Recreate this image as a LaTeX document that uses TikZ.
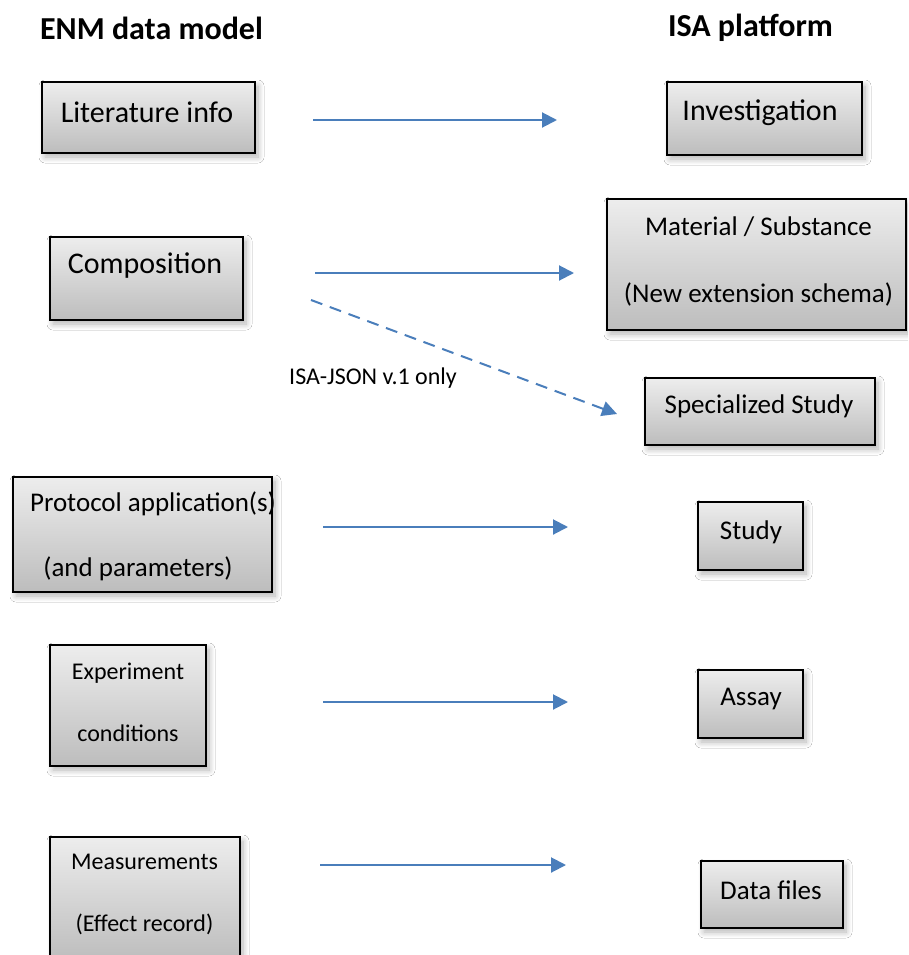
\documentclass[tikz,border=0pt]{standalone}
\usepackage{fontspec}
\setmainfont{Carlito}
\usetikzlibrary{arrows.meta,shadows.blur}
\definecolor{arrowblue}{HTML}{4A7EBB}
\begin{document}
\begin{tikzpicture}[x=1pt,y=-1pt,
  box/.style={draw=black, line width=2.5pt, top color=black!7, bottom color=black!26,
    blur shadow={shadow xshift=3pt, shadow yshift=-4pt, shadow blur steps=8, shadow blur radius=6pt, shadow opacity=30},
    inner sep=0pt},
  big/.style={font=\fontsize{30}{35}\selectfont, inner sep=0pt},
  mid/.style={font=\fontsize{27}{67}\selectfont, inner sep=0pt, align=center},
  small/.style={font=\fontsize{24}{62}\selectfont, inner sep=0pt, align=center},
  head/.style={font=\fontsize{32}{38}\selectfont\bfseries, inner sep=0pt},
  link/.style={draw=arrowblue, line width=2pt, -{Triangle[length=15pt,width=15pt]}},
  dlink/.style={link, dash pattern=on 12pt off 8pt}
]
\useasboundingbox (0,0) rectangle (908,955);
\clip (0,0) rectangle (908,955);
\fill[white] (0,0) rectangle (908,955);

% headers
\node[head] (h1) at (151.5,28) {ENM data model};
\node[head] (h2) at (750.5,28) {ISA platform};

% left boxes
\node[box, minimum width=213pt, minimum height=71pt] (lit) at (148.5,117.5) {};
\node[box, minimum width=193pt, minimum height=83pt] (comp) at (146.5,278.5) {};
\node[box, minimum width=259pt, minimum height=115pt] (prot) at (142.5,534.5) {};
\node[box, minimum width=156pt, minimum height=121pt] (exp) at (128,705.5) {};
\node[box, minimum width=190pt, minimum height=124pt] (meas) at (145,899) {};

% right boxes
\node[box, minimum width=195pt, minimum height=73pt] (inv) at (764.5,118.5) {};
\node[box, minimum width=299pt, minimum height=131pt] (mat) at (756.5,264.5) {};
\node[box, minimum width=230pt, minimum height=67pt] (spec) at (760,411.5) {};
\node[box, minimum width=105pt, minimum height=68pt] (study) at (750.5,536) {};
\node[box, minimum width=105pt, minimum height=68pt] (assay) at (750.5,704) {};
\node[box, minimum width=142pt, minimum height=67pt] (data) at (772,894.5) {};

% texts
\node[big] (tlit) at (147,112) {Literature info};
\node[big] (tcomp) at (145,266) {Composition};
\node[big] (tinv) at (760,113) {Investigation};
\node[mid] (tmat) at (758.5,261.5) {Material / Substance\\(New extension schema)};
\node[mid] (tspec) at (759,406) {Specialized Study};
\node[mid] (tprot1) at (153,504) {Protocol application(s)};
\node[mid] (tprot2) at (138,569) {(and parameters)};
\node[mid] (tstudy) at (751,532) {Study};
\node[small] (texp) at (128,702.5) {Experiment\\conditions};
\node[mid] (tassay) at (751,699) {Assay};
\node[small] (tmeas) at (144.5,894.5) {Measurements\\(Effect record)};
\node[mid] (tdata) at (771,890) {Data files};
\node[small] (lbl) at (373,378) {ISA-JSON v.1 only};

% connector end points
\coordinate (a1s) at (313,120); \coordinate (a1e) at (557,120);
\coordinate (a2s) at (315,273); \coordinate (a2e) at (574,273);
\coordinate (a3s) at (311,300); \coordinate (a3e) at (617,414);
\coordinate (a4s) at (323,527); \coordinate (a4e) at (568,527);
\coordinate (a5s) at (323,702); \coordinate (a5e) at (568,702);
\coordinate (a6s) at (320,865); \coordinate (a6e) at (566,865);

\draw[link] (a1s) -- (a1e);
\draw[link] (a2s) -- (a2e);
\draw[dlink] (a3s) -- (a3e);
\draw[link] (a4s) -- (a4e);
\draw[link] (a5s) -- (a5e);
\draw[link] (a6s) -- (a6e);
\end{tikzpicture}
\end{document}
